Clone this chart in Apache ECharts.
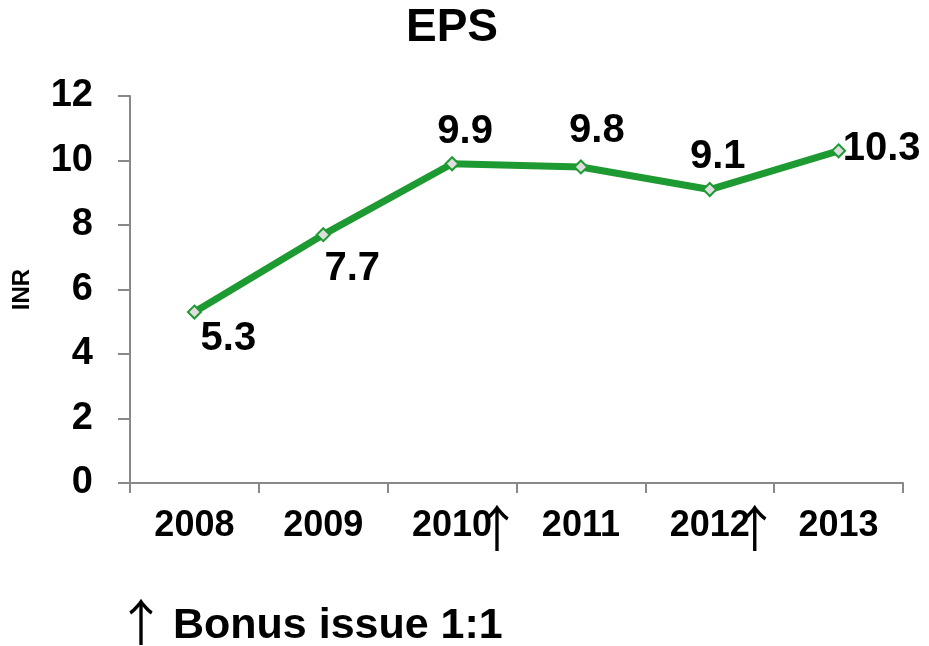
<!DOCTYPE html>
<html>
<head>
<meta charset="utf-8">
<script src="https://cdn.jsdelivr.net/npm/echarts@6/dist/echarts.min.js"></script>
<style>html,body{margin:0;padding:0;background:#fff}#c{width:929px;height:646px}</style>
</head>
<body>
<div id="c"></div>
<script>
const categories = ['2008', '2009', '2010', '2011', '2012', '2013'];
const bonusYears = ['2010', '2012'];
const epsValues = [5.3, 7.7, 9.9, 9.8, 9.1, 10.3];
const yTicks = [0, 2, 4, 6, 8, 10, 12];
const titleText = 'EPS';
const yAxisName = 'INR';
const noteText = 'Bonus issue 1:1';
const arrowChar = '↑';

const labelOffsets = [[34, 27], [29, 34], [13, -32], [16, -36], [8, -33], [43, -2]];

const FONT = 'Liberation Sans, Arial, sans-serif';
const ARROW_FONT = 'Noto Sans CJK JP';
const chart = echarts.init(document.getElementById('c'), null, {renderer: 'canvas'});
chart.setOption({
  backgroundColor: '#fff',
  animation: false,
  title: {
    text: titleText, left: 406, top: 5, padding: 0,
    textStyle: {fontFamily: FONT, fontWeight: 'bold', fontSize: 46, color: '#000'}
  },
  grid: {left: 130, right: 26, top: 96, bottom: 163, containLabel: false},
  xAxis: {
    type: 'category', data: categories, boundaryGap: true,
    axisLine: {lineStyle: {color: '#888', width: 2}},
    axisTick: {show: true, length: 10, interval: 0, lineStyle: {color: '#888', width: 2}},
    axisLabel: {
      interval: 0,
      margin: 25, color: '#000', fontFamily: FONT, fontWeight: 'bold', fontSize: 36
    }
  },
  yAxis: {
    type: 'value', min: 0, max: 12, interval: 2,
    name: yAxisName, nameLocation: 'middle', nameGap: 96, nameRotate: 90,
    nameTextStyle: {fontFamily: FONT, fontWeight: 'bold', fontSize: 24, color: '#000'},
    axisLine: {show: true, lineStyle: {color: '#888', width: 2}},
    axisTick: {show: true, length: 12, lineStyle: {color: '#888', width: 2}},
    splitLine: {show: false},
    axisLabel: {
      margin: 37, color: '#000', fontFamily: FONT, fontWeight: 'bold', fontSize: 38,
      formatter: v => yTicks.includes(v) ? String(v) : ''
    }
  },
  series: [{
    type: 'line',
    data: epsValues.map((v, i) => ({
      value: v,
      label: {offset: labelOffsets[i]}
    })),
    lineStyle: {color: '#1e9a32', width: 7},
    symbol: 'diamond', symbolSize: 13,
    itemStyle: {color: '#dedede', borderColor: '#1e9a32', borderWidth: 2},
    label: {
      show: true, position: 'inside', color: '#000',
      fontFamily: FONT, fontWeight: 'bold', fontSize: 40,
      formatter: p => p.value.toFixed(1)
    },
    z: 3
  }]
});

// Bonus-issue arrows placed next to their category labels, positioned via the axis scale
const arrowY = 483 + 25 + 18;
const graphics = bonusYears.map(y => {
  const cx = chart.convertToPixel({xAxisIndex: 0}, y);
  return {
    type: 'text', x: cx + 45, y: arrowY + 2,
    style: {text: arrowChar, font: 'normal 50px "' + ARROW_FONT + '"', fill: '#000',
            align: 'center', verticalAlign: 'middle'}
  };
});
graphics.push({
  type: 'text', x: 141, y: 622,
  style: {text: arrowChar, font: 'normal 50px "' + ARROW_FONT + '"', fill: '#000',
          align: 'center', verticalAlign: 'middle'}
});
graphics.push({
  type: 'text', x: 173, y: 626,
  style: {text: noteText, font: 'bold 43px "Liberation Sans", Arial, sans-serif', fill: '#000',
          align: 'left', verticalAlign: 'middle'}
});
chart.setOption({graphic: graphics});
</script>
</body>
</html>
